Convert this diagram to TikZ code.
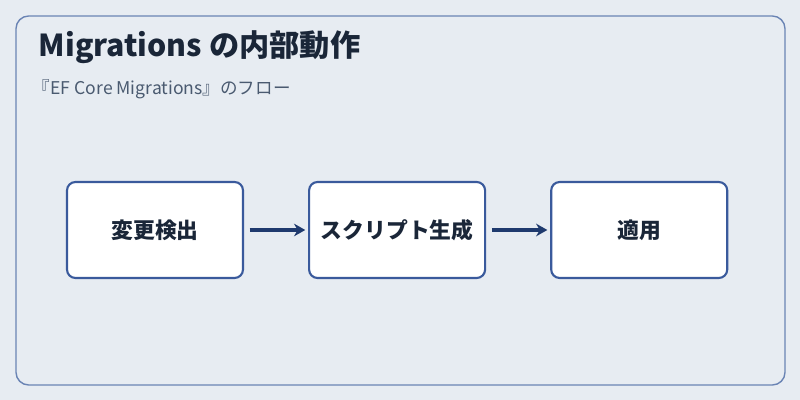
\documentclass[tikz,border=0pt]{standalone}
\usepackage{fontspec}
\setmainfont{Noto Sans CJK JP}
\usepackage{tikz}
\usetikzlibrary{arrows.meta, positioning}
\definecolor{bgcol}{HTML}{E7ECF2}
\definecolor{framecol}{HTML}{6A84B4}
\definecolor{boxcol}{HTML}{3A5A9C}
\definecolor{navy}{HTML}{1F3A6E}
\definecolor{titlecol}{HTML}{1A2638}
\definecolor{subcol}{HTML}{4A5A70}

\begin{document}
\begin{tikzpicture}[
        >=Stealth,
        node distance=1.6cm,
        phase/.style={
            rectangle, rounded corners=6pt, draw=boxcol, line width=1.5pt,
            fill=white, minimum width=4.4cm, minimum height=2.4cm,
            text centered, font=\fontsize{15.5}{18}\selectfont\bfseries, text=titlecol
        },
        arrow/.style={-{Stealth[length=8pt,width=9pt]}, line width=2.8pt, navy},
    ]

    % ── Canvas ──
    \fill[bgcol] (0,0) rectangle (20,-10);
    \useasboundingbox (0,0) rectangle (20,-10);
    \draw[framecol, line width=1pt, rounded corners=9pt] (0.4,-0.4) rectangle (19.625,-9.625);

    % ── Title ──
    \node[anchor=west, font=\fontsize{21.5}{26}\selectfont\bfseries, text=titlecol] (title) at (0.85,-1.18) {Migrations の内部動作};
    \node[anchor=west, font=\fontsize{12.5}{15}\selectfont, text=subcol] (sub) at (0.7,-2.22) {『EF Core Migrations』のフロー};

    % ── Steps ──
    \node[phase] (detect) at (3.875,-5.75) {変更検出};
    \node[phase, right=of detect] (script) {スクリプト生成};
    \node[phase, right=of script] (apply) {適用};

    % ── Arrows ──
    \draw[arrow] ([xshift=4pt]detect.east) -- ([xshift=-2pt]script.west);
    \draw[arrow] ([xshift=4pt]script.east) -- ([xshift=-2pt]apply.west);

\end{tikzpicture}
\end{document}
